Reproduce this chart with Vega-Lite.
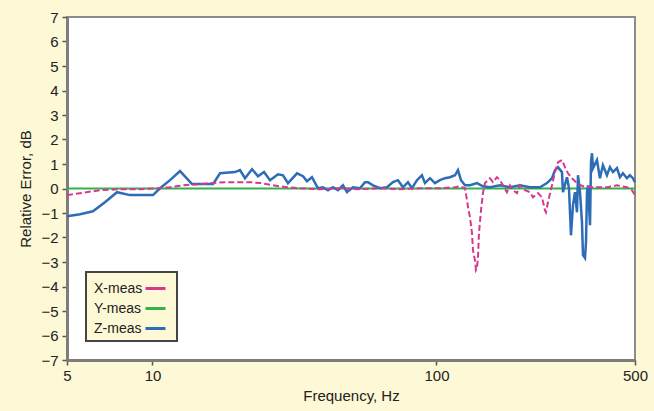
{
  "$schema": "https://vega.github.io/schema/vega-lite/v6.json",
  "width": 568,
  "height": 343,
  "autosize": {"type": "none"},
  "padding": {"left": 67, "top": 17, "right": 19, "bottom": 51},
  "background": "#fdf8d6",
  "config": {
    "view": {"fill": "white", "stroke": "#8c8c8c", "strokeWidth": 2},
    "axis": {
      "grid": false,
      "domainColor": "#7d7d7d",
      "domainWidth": 3,
      "tickColor": "#555555",
      "tickWidth": 1.5,
      "tickSize": 5,
      "labelFont": "Liberation Sans",
      "labelFontSize": 15,
      "labelColor": "#222222",
      "titleFont": "Liberation Sans",
      "titleFontSize": 15,
      "titleFontWeight": "normal",
      "titleColor": "#222222"
    },
    "legend": {
      "orient": "bottom-left",
      "offset": 19,
      "fillColor": "#fdf8d6",
      "strokeColor": "#444444",
      "strokeWidth": 2,
      "padding": 5,
      "rowPadding": 1,
      "labelFont": "Liberation Sans",
      "labelFontSize": 14,
      "labelColor": "#222222",
      "symbolType": "stroke",
      "symbolSize": 400,
      "symbolStrokeWidth": 3,
      "labelOffset": -73,
      "symbolOffset": 53
    }
  },
  "data": {
    "values": [
      {"f": 5.00, "err": 0, "s": "Y-meas"},
      {"f": 10, "err": 0, "s": "Y-meas"},
      {"f": 50, "err": 0, "s": "Y-meas"},
      {"f": 100, "err": 0, "s": "Y-meas"},
      {"f": 500, "err": 0, "s": "Y-meas"},

      {"f": 5.00, "err": -1.13, "s": "Z-meas"},
      {"f": 5.56, "err": -1.05, "s": "Z-meas"},
      {"f": 6.17, "err": -0.93, "s": "Z-meas"},
      {"f": 6.80, "err": -0.56, "s": "Z-meas"},
      {"f": 7.50, "err": -0.15, "s": "Z-meas"},
      {"f": 8.33, "err": -0.27, "s": "Z-meas"},
      {"f": 9.19, "err": -0.27, "s": "Z-meas"},
      {"f": 10.04, "err": -0.27, "s": "Z-meas"},
      {"f": 10.63, "err": 0.01, "s": "Z-meas"},
      {"f": 11.53, "err": 0.34, "s": "Z-meas"},
      {"f": 12.50, "err": 0.71, "s": "Z-meas"},
      {"f": 13.78, "err": 0.18, "s": "Z-meas"},
      {"f": 14.70, "err": 0.18, "s": "Z-meas"},
      {"f": 16.34, "err": 0.18, "s": "Z-meas"},
      {"f": 17.29, "err": 0.62, "s": "Z-meas"},
      {"f": 19.52, "err": 0.67, "s": "Z-meas"},
      {"f": 20.33, "err": 0.75, "s": "Z-meas"},
      {"f": 21.17, "err": 0.42, "s": "Z-meas"},
      {"f": 22.41, "err": 0.79, "s": "Z-meas"},
      {"f": 23.52, "err": 0.50, "s": "Z-meas"},
      {"f": 24.70, "err": 0.67, "s": "Z-meas"},
      {"f": 25.93, "err": 0.34, "s": "Z-meas"},
      {"f": 27.67, "err": 0.58, "s": "Z-meas"},
      {"f": 28.81, "err": 0.54, "s": "Z-meas"},
      {"f": 30.00, "err": 0.22, "s": "Z-meas"},
      {"f": 32.28, "err": 0.62, "s": "Z-meas"},
      {"f": 33.88, "err": 0.50, "s": "Z-meas"},
      {"f": 34.99, "err": 0.30, "s": "Z-meas"},
      {"f": 36.44, "err": 0.46, "s": "Z-meas"},
      {"f": 38.25, "err": 0.01, "s": "Z-meas"},
      {"f": 39.83, "err": 0.05, "s": "Z-meas"},
      {"f": 41.48, "err": -0.07, "s": "Z-meas"},
      {"f": 43.20, "err": 0.05, "s": "Z-meas"},
      {"f": 44.99, "err": -0.07, "s": "Z-meas"},
      {"f": 46.85, "err": 0.13, "s": "Z-meas"},
      {"f": 48.40, "err": -0.15, "s": "Z-meas"},
      {"f": 50.81, "err": 0.05, "s": "Z-meas"},
      {"f": 53.78, "err": 0.01, "s": "Z-meas"},
      {"f": 56.01, "err": 0.26, "s": "Z-meas"},
      {"f": 57.38, "err": 0.26, "s": "Z-meas"},
      {"f": 59.76, "err": 0.13, "s": "Z-meas"},
      {"f": 63.24, "err": 0.01, "s": "Z-meas"},
      {"f": 66.93, "err": 0.05, "s": "Z-meas"},
      {"f": 70.27, "err": 0.26, "s": "Z-meas"},
      {"f": 73.18, "err": 0.34, "s": "Z-meas"},
      {"f": 76.20, "err": 0.05, "s": "Z-meas"},
      {"f": 79.35, "err": 0.26, "s": "Z-meas"},
      {"f": 81.96, "err": 0.01, "s": "Z-meas"},
      {"f": 85.34, "err": 0.34, "s": "Z-meas"},
      {"f": 88.88, "err": 0.54, "s": "Z-meas"},
      {"f": 91.07, "err": 0.22, "s": "Z-meas"},
      {"f": 94.84, "err": 0.42, "s": "Z-meas"},
      {"f": 98.77, "err": 0.22, "s": "Z-meas"},
      {"f": 102.85, "err": 0.34, "s": "Z-meas"},
      {"f": 107.11, "err": 0.42, "s": "Z-meas"},
      {"f": 111.54, "err": 0.46, "s": "Z-meas"},
      {"f": 116.15, "err": 0.54, "s": "Z-meas"},
      {"f": 119.02, "err": 0.75, "s": "Z-meas"},
      {"f": 121.96, "err": 0.34, "s": "Z-meas"},
      {"f": 125.98, "err": 0.13, "s": "Z-meas"},
      {"f": 131.20, "err": 0.13, "s": "Z-meas"},
      {"f": 138.86, "err": 0.22, "s": "Z-meas"},
      {"f": 145.76, "err": 0.09, "s": "Z-meas"},
      {"f": 154.26, "err": 0.05, "s": "Z-meas"},
      {"f": 167.25, "err": 0.13, "s": "Z-meas"},
      {"f": 181.42, "err": 0.05, "s": "Z-meas"},
      {"f": 196.79, "err": 0.13, "s": "Z-meas"},
      {"f": 213.36, "err": 0.05, "s": "Z-meas"},
      {"f": 231.37, "err": 0.05, "s": "Z-meas"},
      {"f": 244.91, "err": 0.22, "s": "Z-meas"},
      {"f": 255.07, "err": 0.42, "s": "Z-meas"},
      {"f": 261.30, "err": 0.75, "s": "Z-meas"},
      {"f": 267.75, "err": 0.87, "s": "Z-meas"},
      {"f": 276.57, "err": 0.67, "s": "Z-meas"},
      {"f": 278.83, "err": -0.15, "s": "Z-meas"},
      {"f": 288.03, "err": 0.46, "s": "Z-meas"},
      {"f": 292.73, "err": 0.01, "s": "Z-meas"},
      {"f": 297.52, "err": -1.91, "s": "Z-meas"},
      {"f": 302.41, "err": -0.68, "s": "Z-meas"},
      {"f": 307.36, "err": -0.15, "s": "Z-meas"},
      {"f": 312.39, "err": -0.97, "s": "Z-meas"},
      {"f": 314.93, "err": 0.54, "s": "Z-meas"},
      {"f": 320.07, "err": -0.15, "s": "Z-meas"},
      {"f": 325.31, "err": -1.38, "s": "Z-meas"},
      {"f": 327.97, "err": -2.72, "s": "Z-meas"},
      {"f": 333.33, "err": -2.84, "s": "Z-meas"},
      {"f": 336.07, "err": -2.19, "s": "Z-meas"},
      {"f": 338.81, "err": -0.15, "s": "Z-meas"},
      {"f": 341.56, "err": 0.13, "s": "Z-meas"},
      {"f": 347.16, "err": -1.50, "s": "Z-meas"},
      {"f": 349.98, "err": 1.07, "s": "Z-meas"},
      {"f": 352.83, "err": 1.44, "s": "Z-meas"},
      {"f": 355.70, "err": 0.83, "s": "Z-meas"},
      {"f": 367.28, "err": 1.16, "s": "Z-meas"},
      {"f": 376.28, "err": 0.42, "s": "Z-meas"},
      {"f": 385.51, "err": 0.95, "s": "Z-meas"},
      {"f": 398.28, "err": 0.54, "s": "Z-meas"},
      {"f": 408.11, "err": 0.87, "s": "Z-meas"},
      {"f": 418.15, "err": 0.67, "s": "Z-meas"},
      {"f": 431.92, "err": 0.83, "s": "Z-meas"},
      {"f": 442.56, "err": 0.46, "s": "Z-meas"},
      {"f": 453.43, "err": 0.62, "s": "Z-meas"},
      {"f": 468.40, "err": 0.42, "s": "Z-meas"},
      {"f": 479.91, "err": 0.54, "s": "Z-meas"},
      {"f": 491.70, "err": 0.42, "s": "Z-meas"},
      {"f": 499.71, "err": 0.26, "s": "Z-meas"},

      {"f": 5.00, "err": -0.27, "s": "X-meas"},
      {"f": 5.56, "err": -0.19, "s": "X-meas"},
      {"f": 6.54, "err": -0.07, "s": "X-meas"},
      {"f": 7.69, "err": -0.03, "s": "X-meas"},
      {"f": 9.04, "err": -0.03, "s": "X-meas"},
      {"f": 10.37, "err": 0.01, "s": "X-meas"},
      {"f": 11.53, "err": 0.05, "s": "X-meas"},
      {"f": 12.81, "err": 0.13, "s": "X-meas"},
      {"f": 14.70, "err": 0.18, "s": "X-meas"},
      {"f": 16.34, "err": 0.22, "s": "X-meas"},
      {"f": 18.00, "err": 0.26, "s": "X-meas"},
      {"f": 19.84, "err": 0.26, "s": "X-meas"},
      {"f": 22.05, "err": 0.26, "s": "X-meas"},
      {"f": 23.91, "err": 0.22, "s": "X-meas"},
      {"f": 26.58, "err": 0.13, "s": "X-meas"},
      {"f": 29.76, "err": 0.05, "s": "X-meas"},
      {"f": 33.07, "err": 0.01, "s": "X-meas"},
      {"f": 38.90, "err": -0.03, "s": "X-meas"},
      {"f": 45.74, "err": 0.01, "s": "X-meas"},
      {"f": 53.78, "err": -0.03, "s": "X-meas"},
      {"f": 63.24, "err": 0.01, "s": "X-meas"},
      {"f": 74.39, "err": -0.03, "s": "X-meas"},
      {"f": 87.48, "err": 0.01, "s": "X-meas"},
      {"f": 102.85, "err": 0.01, "s": "X-meas"},
      {"f": 116.15, "err": 0.05, "s": "X-meas"},
      {"f": 120.93, "err": 0.09, "s": "X-meas"},
      {"f": 125.98, "err": 0.01, "s": "X-meas"},
      {"f": 128.10, "err": -0.48, "s": "X-meas"},
      {"f": 129.11, "err": -0.76, "s": "X-meas"},
      {"f": 131.20, "err": -1.17, "s": "X-meas"},
      {"f": 133.34, "err": -1.82, "s": "X-meas"},
      {"f": 134.42, "err": -2.52, "s": "X-meas"},
      {"f": 136.62, "err": -2.93, "s": "X-meas"},
      {"f": 137.73, "err": -3.33, "s": "X-meas"},
      {"f": 138.86, "err": -3.25, "s": "X-meas"},
      {"f": 139.99, "err": -2.80, "s": "X-meas"},
      {"f": 141.13, "err": -1.82, "s": "X-meas"},
      {"f": 143.44, "err": -0.89, "s": "X-meas"},
      {"f": 145.76, "err": -0.19, "s": "X-meas"},
      {"f": 148.14, "err": 0.22, "s": "X-meas"},
      {"f": 154.26, "err": 0.42, "s": "X-meas"},
      {"f": 158.00, "err": 0.26, "s": "X-meas"},
      {"f": 163.23, "err": 0.46, "s": "X-meas"},
      {"f": 167.25, "err": 0.34, "s": "X-meas"},
      {"f": 171.39, "err": 0.13, "s": "X-meas"},
      {"f": 177.04, "err": -0.15, "s": "X-meas"},
      {"f": 181.42, "err": 0.13, "s": "X-meas"},
      {"f": 185.90, "err": -0.07, "s": "X-meas"},
      {"f": 191.99, "err": -0.19, "s": "X-meas"},
      {"f": 196.79, "err": 0.13, "s": "X-meas"},
      {"f": 204.93, "err": -0.07, "s": "X-meas"},
      {"f": 213.36, "err": -0.15, "s": "X-meas"},
      {"f": 218.69, "err": -0.36, "s": "X-meas"},
      {"f": 227.75, "err": -0.19, "s": "X-meas"},
      {"f": 235.22, "err": -0.36, "s": "X-meas"},
      {"f": 240.99, "err": -0.89, "s": "X-meas"},
      {"f": 242.94, "err": -0.97, "s": "X-meas"},
      {"f": 246.90, "err": -0.56, "s": "X-meas"},
      {"f": 255.07, "err": 0.13, "s": "X-meas"},
      {"f": 261.30, "err": 0.67, "s": "X-meas"},
      {"f": 267.75, "err": 1.07, "s": "X-meas"},
      {"f": 276.57, "err": 1.16, "s": "X-meas"},
      {"f": 283.39, "err": 0.87, "s": "X-meas"},
      {"f": 290.39, "err": 0.62, "s": "X-meas"},
      {"f": 299.95, "err": 0.42, "s": "X-meas"},
      {"f": 312.39, "err": 0.22, "s": "X-meas"},
      {"f": 327.97, "err": 0.09, "s": "X-meas"},
      {"f": 355.70, "err": 0.05, "s": "X-meas"},
      {"f": 398.28, "err": 0.05, "s": "X-meas"},
      {"f": 431.92, "err": 0.13, "s": "X-meas"},
      {"f": 468.40, "err": 0.05, "s": "X-meas"},
      {"f": 488.00, "err": -0.07, "s": "X-meas"},
      {"f": 499.71, "err": -0.27, "s": "X-meas"}
    ]
  },
  "encoding": {
    "x": {
      "field": "f",
      "type": "quantitative",
      "title": "Frequency, Hz",
      "scale": {"type": "log", "domain": [5, 500], "nice": false},
      "axis": {"values": [5, 10, 100, 500], "format": "d", "labelPadding": 3, "titlePadding": 5, "labelFlush": false}
    },
    "y": {
      "field": "err",
      "type": "quantitative",
      "title": "Relative Error, dB",
      "scale": {"domain": [-7, 7], "nice": false},
      "axis": {"values": [-7, -6, -5, -4, -3, -2, -1, 0, 1, 2, 3, 4, 5, 6, 7], "format": "d", "labelPadding": 4, "titlePadding": 7}
    },
    "color": {
      "field": "s",
      "type": "nominal",
      "title": null,
      "scale": {"domain": ["X-meas", "Y-meas", "Z-meas"], "range": ["#d8378f", "#35b04a", "#2d6cb6"]},
      "legend": {
        "encode": {"symbols": {"update": {"strokeDash": {"value": [1, 0]}}}}
      }
    }
  },
  "layer": [
    {
      "transform": [{"filter": "datum.s === 'Y-meas'"}],
      "mark": {"type": "line", "strokeWidth": 2.2}
    },
    {
      "transform": [{"filter": "datum.s === 'Z-meas'"}],
      "mark": {"type": "line", "strokeWidth": 2.5}
    },
    {
      "transform": [{"filter": "datum.s === 'X-meas'"}],
      "mark": {"type": "line", "strokeWidth": 2, "strokeDash": [6, 3]}
    }
  ]
}
